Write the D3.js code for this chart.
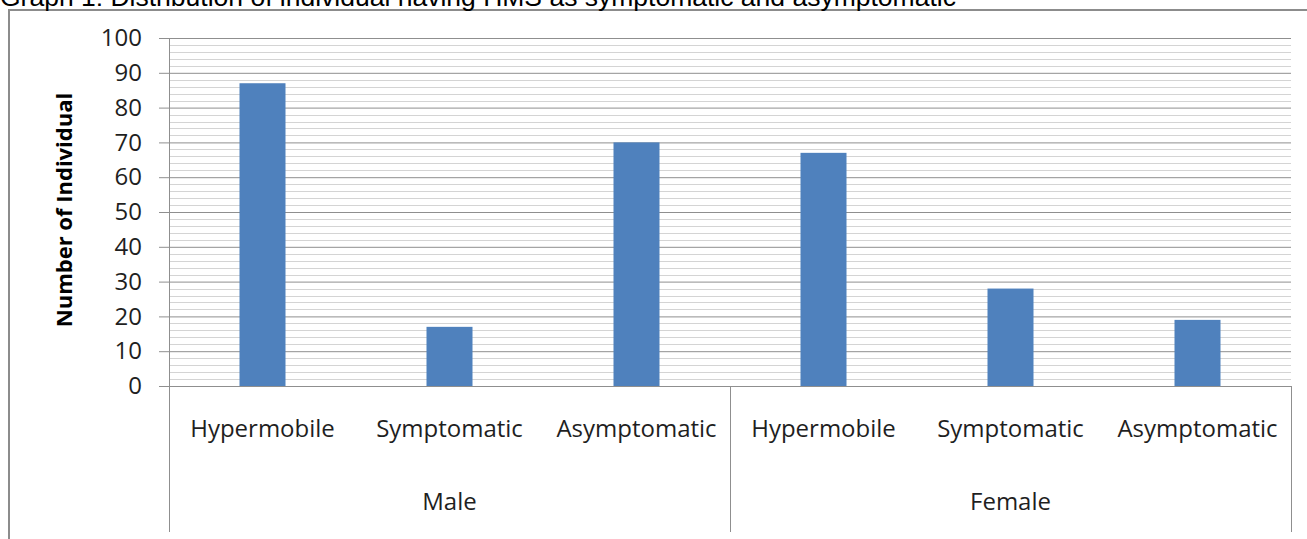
<!DOCTYPE html>
<html>
<head>
<meta charset="utf-8">
<script src="https://cdn.jsdelivr.net/npm/d3@7"></script>
<style>
body { margin: 0; background: #fff; }
svg { display: block; }
</style>
</head>
<body>
<svg id="chart"></svg>
<script>
// chart values
var titleText = "Graph 1: Distribution of individual having HMS as symptomatic and asymptomatic";
var groups = ["Male", "Female"];
var subcats = ["Hypermobile", "Symptomatic", "Asymptomatic"];
var maleValues = [87, 17, 70];
var femaleValues = [67, 28, 19];
var yTicks = [0, 10, 20, 30, 40, 50, 60, 70, 80, 90, 100];
var yTitle = "Number of Individual";

var w = 1307;
var h = 539;
var plot = { left: 169, right: 1291, top: 38, bottom: 386 };

// flatten into rows for the band scale
var rows = [];
groups.forEach(function (g, gi) {
	var vals = gi == 0 ? maleValues : femaleValues;
	subcats.forEach(function (c, ci) {
		rows.push({ key: g + "-" + c, group: g, cat: c, value: vals[ci] });
	});
});

var svg = d3.select("#chart")
	.attr("width", w)
	.attr("height", h);

// outer frame
svg.append("rect")
	.attr("x", 9)
	.attr("y", 10)
	.attr("width", w)
	.attr("height", h)
	.attr("fill", "none")
	.attr("stroke", "#8c8c8c")
	.attr("stroke-width", 2);

// title (top is cut off, as in the picture)
svg.append("text")
	.attr("x", 0)
	.attr("y", 6)
	.attr("font-family", "Liberation Sans, Arial, sans-serif")
	.attr("font-size", 26.5)
	.attr("fill", "#000")
	.text(titleText);

var xScale = d3.scaleBand()
	.domain(rows.map(function (d) { return d.key; }))
	.range([plot.left, plot.right])
	.paddingInner(0.754)
	.paddingOuter(0.377);

var yScale = d3.scaleLinear()
	.domain([0, 100])
	.range([plot.bottom, plot.top]);

// minor gridlines every 2
var minor = d3.range(2, 101, 2).filter(function (v) { return v % 10 != 0; });
svg.append("g")
	.selectAll("line")
	.data(minor)
	.enter()
	.append("line")
	.attr("x1", plot.left)
	.attr("x2", plot.right)
	.attr("y1", function (d) { return Math.round(yScale(d)) + 0.5; })
	.attr("y2", function (d) { return Math.round(yScale(d)) + 0.5; })
	.attr("stroke", "#d4d4d4")
	.attr("stroke-width", 1);

// major gridlines + y axis
var yAxis = d3.axisLeft(yScale)
	.tickValues(yTicks)
	.tickSize(10)
	.tickPadding(17);
var yg = svg.append("g")
	.attr("transform", "translate(" + plot.left + ",0)")
	.call(yAxis);
yg.select(".domain").remove();
yg.selectAll(".tick line")
	.attr("x1", -10)
	.attr("x2", plot.right - plot.left)
	.attr("stroke", "#8f8f8f");
yg.selectAll(".tick text")
	.attr("font-family", "Open Sans, sans-serif")
	.attr("font-size", 24)
	.attr("fill", "#1f1f1f");

// bars
svg.selectAll("rect.bar")
	.data(rows)
	.enter()
	.append("rect")
	.classed("bar", true)
	.attr("x", function (d) { return xScale(d.key); })
	.attr("width", xScale.bandwidth())
	.attr("y", function (d) { return yScale(d.value); })
	.attr("height", function (d) { return yScale(0) - yScale(d.value); })
	.attr("fill", "#4f81bd");

// axis lines
var axisColor = "#8f8f8f";
svg.append("line")
	.attr("x1", plot.left - 10).attr("x2", plot.right)
	.attr("y1", plot.bottom + 0.5).attr("y2", plot.bottom + 0.5)
	.attr("stroke", axisColor);

var groupBounds = [plot.left, plot.left + xScale.step() * 3, plot.right];
svg.selectAll("line.sep")
	.data(groupBounds)
	.enter()
	.append("line")
	.classed("sep", true)
	.attr("x1", function (d) { return Math.round(d) + 0.5; })
	.attr("x2", function (d) { return Math.round(d) + 0.5; })
	.attr("y1", function (d, i) { return i == 0 ? plot.top : plot.bottom; })
	.attr("y2", 532)
	.attr("stroke", axisColor);

// category labels
svg.selectAll("text.cat")
	.data(rows)
	.enter()
	.append("text")
	.classed("cat", true)
	.attr("x", function (d) { return xScale(d.key) + xScale.bandwidth() / 2; })
	.attr("y", 437)
	.attr("text-anchor", "middle")
	.attr("font-family", "Open Sans, sans-serif")
	.attr("font-size", 24)
	.attr("fill", "#1f1f1f")
	.text(function (d) { return d.cat; });

// group labels
svg.selectAll("text.grp")
	.data(groups)
	.enter()
	.append("text")
	.classed("grp", true)
	.attr("x", function (d, i) { return (groupBounds[i] + groupBounds[i + 1]) / 2; })
	.attr("y", 510)
	.attr("text-anchor", "middle")
	.attr("font-family", "Open Sans, sans-serif")
	.attr("font-size", 24)
	.attr("fill", "#1f1f1f")
	.text(function (d) { return d; });

// y title
svg.append("text")
	.attr("transform", "translate(72,210) rotate(-90)")
	.attr("text-anchor", "middle")
	.attr("font-family", "Open Sans, sans-serif")
	.attr("font-weight", "bold")
	.attr("font-size", 22)
	.attr("fill", "#000")
	.text(yTitle);
</script>
</body>
</html>
